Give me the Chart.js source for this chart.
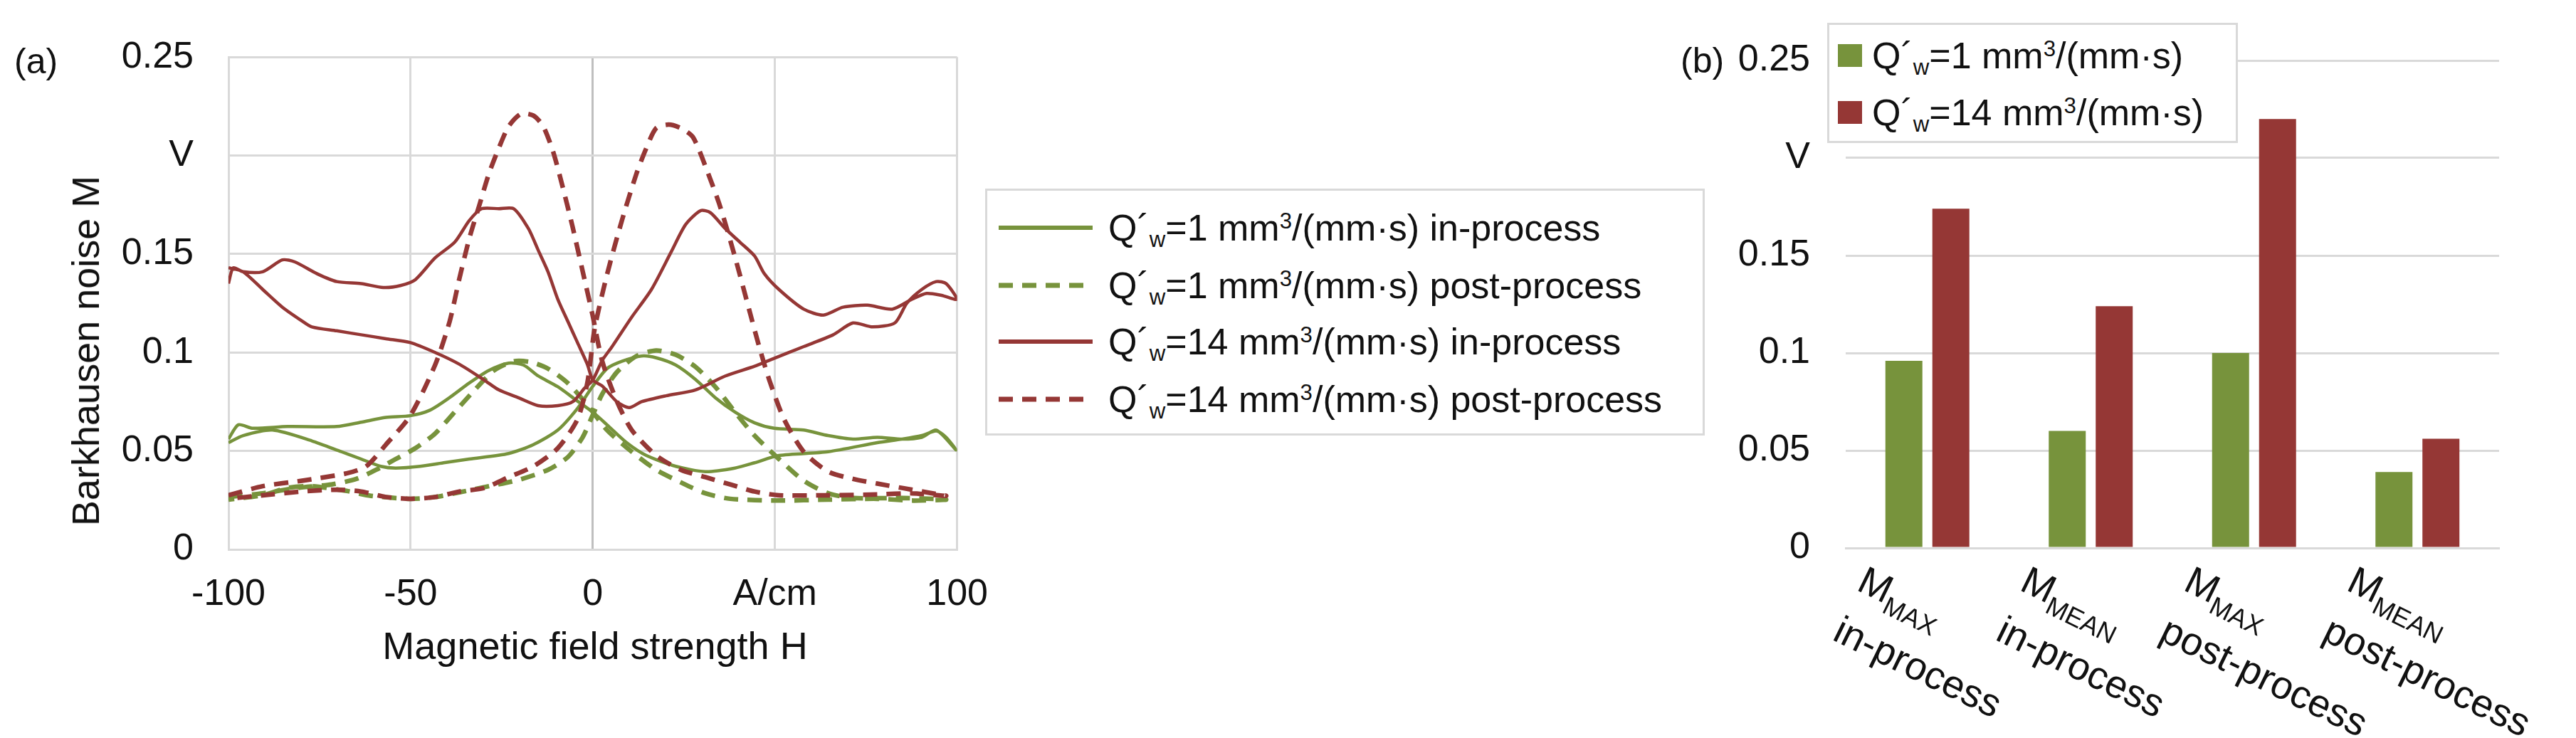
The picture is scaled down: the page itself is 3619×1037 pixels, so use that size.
<!DOCTYPE html>
<html>
<head>
<meta charset="utf-8">
<script src="https://cdn.jsdelivr.net/npm/chart.js@4.4.0/dist/chart.umd.min.js"></script>
<style>
  html, body { margin: 0; padding: 0; background: #fff; }
  body { width: 3619px; height: 1037px; position: relative; overflow: hidden;
         font-family: "Liberation Sans", Arial, sans-serif; color: #111; }
  canvas { position: absolute; top: 0; }
  #chartA { left: 0; }
  #chartB { left: 2380px; }
  .panel { position: absolute; font-size: 50px; line-height: 1; transform: translateY(-50%); }
  .title { position: absolute; font-size: 54px; white-space: nowrap; line-height: 1; }
  .legend { position: absolute; border: 3px solid #d9d9d9; background: #fff; box-sizing: border-box; }
  .row { position: absolute; height: 70px; display: flex; align-items: center; white-space: nowrap; font-size: 52px; }
  .row svg { flex: none; }
  .sw { flex: none; width: 34px; height: 32px; }
  sub, sup { font-size: 0.6em; line-height: 0; }
  sub { vertical-align: -0.3em; }
  sup { vertical-align: 0.55em; }
  .cat { position: absolute; font-size: 55px; line-height: 78px; white-space: nowrap;
         transform-origin: 0 0; transform: rotate(26deg); }
  .cat sub { font-size: 0.66em; vertical-align: -0.35em; }
</style>
</head>
<body>
<canvas id="chartA" width="1420" height="1037"></canvas>
<canvas id="chartB" width="1239" height="1037"></canvas>

<div class="panel" style="left:20px; top:86px;">(a)</div>
<div class="panel" style="left:2361px; top:85px;">(b)</div>
<div class="title" style="left:120px; top:493px; transform:translate(-50%,-50%) rotate(-90deg);">Barkhausen noise M</div>
<div class="title" style="left:836px; top:907px; transform:translate(-50%,-50%);">Magnetic field strength H</div>

<div class="legend" id="legendA" style="left:1384px; top:265px; width:1011px; height:347px;"></div>
<div class="legend" id="legendB" style="left:2567px; top:32px; width:577px; height:169px;"></div>

<script>
const GREEN = '#77933c';
const RED = '#953735';

// ── (a) hysteresis loops: H in A/cm, M in V (each loop goes -100 → 100 → -100) ──
const greenInH = [-100,-97.3,-93.3,-83.8,-70.3,-63.6,-56.8,-50.1,-44.7,-39.3,-33.9,-28.5,-23.1,-19,-15,-9.6,-4.2,-0.1,3.9,9.3,14.7,22.8,30.9,39,44.4,51.1,64.6,78.1,84.9,90.3,94.3,97,99.7,
  94.3,90.3,84.9,78.1,71.4,64.6,57.9,49.8,44.4,39,33.6,28.2,22.8,17.4,13.4,8,3.9,-0.1,-4.2,-9.6,-16.3,-23.1,-33.9,-40.6,-47.4,-54.1,-58.2,-63.6,-69,-77.1,-87.9,-96,-100];
const greenInM = [.056,.0633,.0615,.0624,.0624,.0646,.067,.0679,.0707,.0771,.0845,.0909,.0946,.0936,.0881,.0826,.0753,.0698,.0633,.0542,.0477,.0422,.0395,.0413,.044,.0477,.0496,.0542,.056,.0578,.0602,.0569,.0505,
  .0606,.0569,.056,.0569,.056,.0578,.0606,.0615,.0643,.0698,.0771,.0863,.0936,.0973,.0982,.0955,.0918,.0826,.0716,.0606,.0532,.0487,.0459,.0441,.0422,.0413,.0422,.0459,.0496,.0551,.0606,.0578,.0542];

const greenPostH = [-100,-90.6,-81.1,-71.7,-64.9,-59.5,-54.1,-48.7,-43.3,-37.9,-32.5,-27.1,-21.7,-17,-12.3,-6.9,-1.5,3.9,10.7,17.4,24.2,30.9,37.7,51.1,64.6,78.1,87.6,97,
  84.9,71.4,64.6,57.9,51.1,44.4,39,33.6,28.2,22.8,17.4,12,6.6,2.6,-0.1,-2.8,-6.9,-12.3,-20.4,-28.5,-36.6,-43.3,-50.1,-60.9,-67.6,-77.1,-83.8,-90.6,-100];
const greenPostM = [.0266,.0285,.0312,.033,.0358,.0404,.0459,.0514,.0588,.0698,.0808,.0909,.0955,.0951,.0918,.0845,.0734,.0606,.0496,.0404,.034,.0285,.0257,.0248,.0253,.0257,.0248,.0253,
  .0261,.0261,.0285,.0349,.0459,.0578,.0698,.0826,.0927,.0988,.101,.0982,.09,.0789,.0679,.0569,.0468,.0404,.0353,.0321,.029,.0266,.0257,.0272,.0297,.0321,.0312,.0275,.0253];

const redInH = [-100,-96,-90.6,-85.2,-79.8,-77.1,-70.3,-63.6,-56.8,-50.1,-43.3,-36.6,-29.8,-25.8,-20.4,-15,-9.6,-5.5,-2.2,0,2.6,5.3,10.7,16.1,21.5,25.5,29.6,32.3,36.3,40.4,44.4,47.1,51.1,57.9,63.3,68.7,75.4,82.2,87.6,91.6,95.7,100,
  97,94.3,90.3,86.2,82.9,76.8,71.4,66,57.9,48.4,44.4,36.3,28.2,20.1,13.4,10,6.6,2.6,0,-1.5,-4.2,-6.9,-9.6,-12.3,-15,-17.7,-21.7,-25.8,-30.5,-33.9,-37.9,-43.3,-48.7,-52.8,-57.5,-63.6,-70.3,-75.7,-81.8,-85.2,-90.6,-96,-98.7,-100];
const redInM = [.143,.141,.132,.123,.116,.113,.111,.109,.107,.105,.100,.094,.086,.081,.077,.073,.073,.075,.082,.086,.096,.103,.118,.132,.151,.165,.172,.171,.163,.156,.149,.140,.132,.122,.119,.123,.124,.122,.127,.130,.129,.127,
  .135,.136,.132,.125,.115,.113,.115,.109,.103,.096,.093,.088,.081,.078,.075,.072,.075,.083,.086,.094,.105,.116,.127,.141,.152,.163,.173,.173,.173,.167,.156,.148,.137,.134,.133,.135,.136,.140,.146,.147,.141,.141,.143,.135];

const redPostH = [-100,-90.6,-79.8,-67.6,-62.2,-56.8,-50.1,-43.3,-39.3,-36.6,-33.9,-31.2,-28.5,-25.8,-23.1,-19.7,-16.3,-13.6,-10.9,-8.2,-5.5,-2.8,-0.1,2.6,6.6,10.7,17.4,24.2,30.9,37.7,44.4,51.1,64.6,78.1,87.6,97,
  91.6,84.9,78.1,71.4,64.6,57.9,52.5,48.4,45.7,43,39,34.9,30.9,27.5,24.2,20.8,17.4,14.7,12,8,3.9,0.5,-1.5,-4.2,-9.6,-16.3,-23.1,-29.8,-36.6,-43.3,-50.1,-56.8,-63.6,-70.3,-79.8,-90.6,-100];
const redPostM = [.0275,.0321,.0349,.0386,.0422,.0532,.0679,.0936,.1157,.1377,.1579,.1744,.1909,.2038,.2148,.2212,.2203,.2148,.202,.1836,.1634,.1414,.1193,.0955,.0753,.0606,.0477,.0404,.0367,.033,.0294,.0275,.0275,.0279,.0285,.0272,
  .029,.0312,.0334,.0358,.0395,.0496,.0661,.0863,.1028,.1212,.1487,.1744,.1946,.2093,.2139,.2157,.2139,.2038,.1909,.1671,.1395,.112,.0845,.0661,.0514,.0422,.0367,.0312,.0294,.0266,.0257,.0266,.0294,.0303,.0294,.0275,.0257];

const lineLabels = [
  'Q´<sub>w</sub>=1 mm<sup>3</sup>/(mm·s) in-process',
  'Q´<sub>w</sub>=1 mm<sup>3</sup>/(mm·s) post-process',
  'Q´<sub>w</sub>=14 mm<sup>3</sup>/(mm·s) in-process',
  'Q´<sub>w</sub>=14 mm<sup>3</sup>/(mm·s) post-process',
];

// ── (b) bar chart ──
const barSubs = ['MAX', 'MEAN', 'MAX', 'MEAN'];
const barStages = ['in-process', 'in-process', 'post-process', 'post-process'];
const bar1 = [0.096, 0.060, 0.100, 0.039];
const bar14 = [0.174, 0.124, 0.220, 0.056];
const barLabels = ['Q´<sub>w</sub>=1 mm<sup>3</sup>/(mm·s)', 'Q´<sub>w</sub>=14 mm<sup>3</sup>/(mm·s)'];

const yTicks = [0, 0.05, 0.1, 0.15, 0.2, 0.25];
const xTicks = [-100, -50, 0, 50, 100];

const pts = (hs, ms) => hs.map((h, i) => ({ x: h, y: ms[i] }));
const tickFont = { family: '"Liberation Sans", Arial, sans-serif', size: 52, lineHeight: 1.2 };
const yLabel = (v) => Math.abs(v - 0.2) < 1e-9 ? 'V' : String(+v.toFixed(2));

const seriesA = [
  { data: pts(greenInH, greenInM), color: GREEN, dash: [] },
  { data: pts(greenPostH, greenPostM), color: GREEN, dash: [20, 13] },
  { data: pts(redInH, redInM), color: RED, dash: [] },
  { data: pts(redPostH, redPostM), color: RED, dash: [20, 13] },
];

new Chart(document.getElementById('chartA'), {
  type: 'line',
  data: {
    datasets: seriesA.map((s) => ({
      data: s.data,
      borderColor: s.color,
      borderWidth: s.dash.length ? 6.5 : 4.5,
      borderDash: s.dash,
      pointRadius: 0,
      tension: 0.25,
      fill: false,
    })).reverse(),
  },
  options: {
    responsive: false,
    animation: false,
    devicePixelRatio: 1,
    layout: { padding: { left: 0, top: 75, right: 59, bottom: 0 } },
    plugins: { legend: { display: false }, tooltip: { enabled: false } },
    scales: {
      x: {
        type: 'linear', min: -100, max: 100,
        afterBuildTicks: (s) => { s.ticks = xTicks.map((v) => ({ value: v })); },
        afterFit: (s) => { s.height = 265; },
        ticks: { font: tickFont, color: '#111', padding: 32,
                 callback: (v) => v === 50 ? 'A/cm' : String(v) },
        grid: { drawTicks: false, lineWidth: 3,
                color: (c) => c.tick && c.tick.value === 0 ? '#bfbfbf' : '#d9d9d9' },
        border: { color: '#d9d9d9', width: 3 },
      },
      y: {
        min: 0, max: 0.25,
        afterBuildTicks: (s) => { s.ticks = yTicks.map((v) => ({ value: v })); },
        afterFit: (s) => { s.width = 321; },
        ticks: { font: tickFont, color: '#111', padding: 49, callback: yLabel },
        grid: { drawTicks: false, lineWidth: 3, color: '#d9d9d9' },
        border: { color: '#d9d9d9', width: 3 },
      },
    },
  },
});

const chartB = new Chart(document.getElementById('chartB'), {
  type: 'bar',
  data: {
    labels: barStages,
    datasets: [
      { data: bar1, backgroundColor: GREEN },
      { data: bar14, backgroundColor: RED },
    ],
  },
  options: {
    responsive: false,
    animation: false,
    devicePixelRatio: 1,
    layout: { padding: { left: 0, top: 85, right: 108, bottom: 0 } },
    categoryPercentage: 0.575,
    barPercentage: 0.788,
    plugins: { legend: { display: false }, tooltip: { enabled: false } },
    scales: {
      x: {
        afterFit: (s) => { s.height = 267; },
        ticks: { display: false },
        grid: { display: false, drawTicks: false },
        border: { color: '#d9d9d9', width: 3 },
      },
      y: {
        min: 0, max: 0.25,
        afterBuildTicks: (s) => { s.ticks = yTicks.map((v) => ({ value: v })); },
        afterFit: (s) => { s.width = 213; },
        ticks: { font: tickFont, color: '#111', padding: 50, callback: yLabel },
        grid: { drawTicks: false, lineWidth: 3, color: '#d9d9d9' },
        border: { display: false },
      },
    },
  },
});

// ── legends (HTML so sub/superscripts stay real text) ──
const legA = document.getElementById('legendA');
const rowTopsA = [52, 133, 212, 293];
seriesA.forEach((s, i) => {
  const row = document.createElement('div');
  row.className = 'row';
  row.style.left = '16px';
  row.style.top = (rowTopsA[i] - 35) + 'px';
  const dash = s.dash.length ? 'stroke-dasharray="20 13"' : '';
  row.innerHTML = `<svg width="132" height="12"><line x1="0" y1="6" x2="132" y2="6" stroke="${s.color}" stroke-width="${s.dash.length ? 7 : 6}" ${dash}/></svg>` +
    `<span style="margin-left:22px">${lineLabels[i]}</span>`;
  legA.appendChild(row);
});

const legB = document.getElementById('legendB');
[GREEN, RED].forEach((c, i) => {
  const row = document.createElement('div');
  row.className = 'row';
  row.style.left = '12px';
  row.style.top = ([43, 123][i] - 35) + 'px';
  row.innerHTML = `<div class="sw" style="background:${c}"></div><span style="margin-left:14px">${barLabels[i]}</span>`;
  legB.appendChild(row);
});

// ── rotated category labels, placed from the bar chart's x scale ──
const xs = chartB.scales.x;
barStages.forEach((stage, i) => {
  const el = document.createElement('div');
  el.className = 'cat';
  el.style.left = (2380 + xs.getPixelForValue(i) - 76) + 'px';
  el.style.top = '776px';
  el.innerHTML = `M<sub>${barSubs[i]}</sub><br>${stage}`;
  document.body.appendChild(el);
});
</script>
</body>
</html>
